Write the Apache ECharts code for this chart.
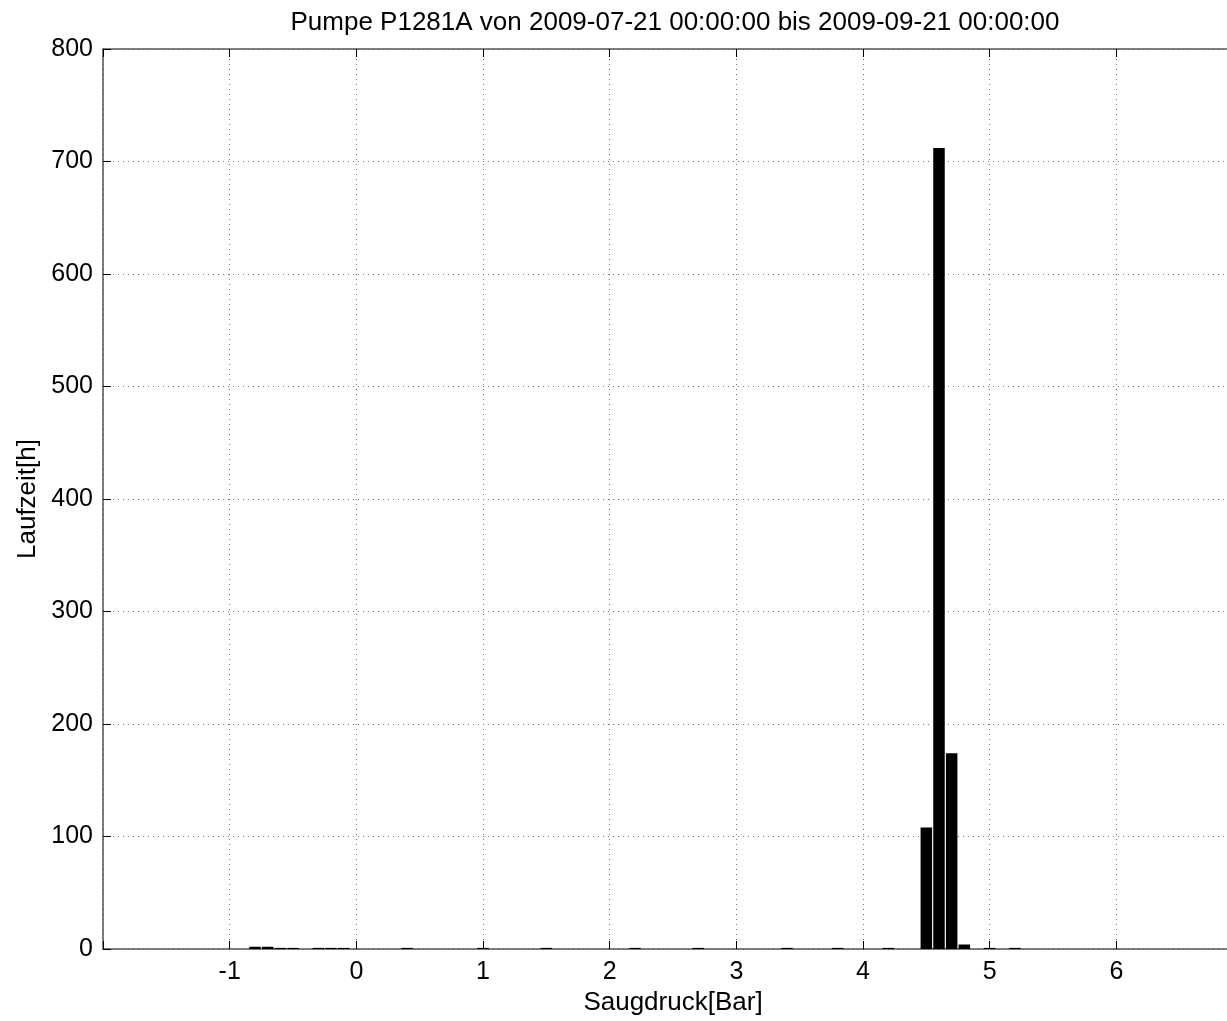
<!DOCTYPE html>
<html>
<head>
<meta charset="utf-8">
<script src="https://cdn.jsdelivr.net/npm/echarts@6/dist/echarts.min.js"></script>
<style>
html,body{margin:0;padding:0;background:#fff;}
#chart{width:1227px;height:1021px;}
</style>
</head>
<body>
<div id="chart"></div>
<script>
// Bin centres of Saugdruck [Bar] and running time [h]
var binCenters = [-0.8, -0.7, -0.6, -0.5, -0.3, -0.2, -0.1, 0.4, 1.0, 1.5, 2.2, 2.7, 3.4, 3.8, 4.2, 4.5, 4.6, 4.7, 4.8, 5.0, 5.2];
var hours      = [2, 2, 1, 1, 1, 1, 1, 1, 1, 1, 1, 1, 1, 1, 1, 108, 712, 174, 4, 1, 1];
var xTicks = [-1, 0, 1, 2, 3, 4, 5, 6];
var yTicks = [0, 100, 200, 300, 400, 500, 600, 700, 800];
var titleText = 'Pumpe P1281A von 2009-07-21 00:00:00 bis 2009-09-21 00:00:00';
var xName = 'Saugdruck[Bar]';
var yName = 'Laufzeit[h]';

var FONT = "'Liberation Sans', Arial, sans-serif";
var chart = echarts.init(document.getElementById('chart'), null, {renderer: 'canvas'});
var data = binCenters.map(function (x, i) { return [x, hours[i]]; });
var axisCol = '#555';
var gridLine = {show: true, lineStyle: {color: '#777', type: [1, 4], width: 1}};

chart.setOption({
  animation: false,
  backgroundColor: '#fff',
  graphic: [{
    type: 'text', x: 675, y: 10,
    style: {text: titleText, font: '26px ' + FONT, fill: '#000', textAlign: 'center', textVerticalAlign: 'top'}
  }],
  grid: {left: 103, top: 49, width: 1140, height: 900, show: false, outerBoundsMode: 'none', containLabel: false},
  xAxis: [{
    type: 'value', min: -2, max: 7, interval: 1,
    name: xName, nameLocation: 'middle', nameGap: 40,
    nameTextStyle: {fontFamily: FONT, fontSize: 26, color: '#000'},
    axisLine: {show: true, onZero: false, lineStyle: {color: axisCol, width: 1.5}},
    axisTick: {show: true, inside: true, length: 8, lineStyle: {color: '#000'}},
    axisLabel: {fontFamily: FONT, fontSize: 25, color: '#000', margin: 11,
      formatter: function (v) { return xTicks.indexOf(v) >= 0 ? String(v) : ''; }},
    splitLine: gridLine
  }, {
    type: 'value', min: -2, max: 7, interval: 1, position: 'top',
    axisLine: {show: true, onZero: false, lineStyle: {color: axisCol, width: 1.5}},
    axisTick: {show: true, inside: true, length: 8, lineStyle: {color: '#000'}},
    axisLabel: {show: false}, splitLine: {show: false}
  }],
  yAxis: [{
    type: 'value', min: 0, max: 800, interval: 100,
    name: yName, nameLocation: 'middle', nameGap: 62, nameRotate: 90,
    nameTextStyle: {fontFamily: FONT, fontSize: 26, color: '#000'},
    axisLine: {show: true, onZero: false, lineStyle: {color: axisCol, width: 1.5}},
    axisTick: {show: true, inside: true, length: 8, lineStyle: {color: '#000'}},
    axisLabel: {fontFamily: FONT, fontSize: 25, color: '#000', margin: 10,
      formatter: function (v) { return yTicks.indexOf(v) >= 0 ? String(v) : ''; }},
    splitLine: gridLine
  }],
  series: [{
    type: 'bar', xAxisIndex: 0, yAxisIndex: 0,
    data: data, barWidth: 11.5,
    itemStyle: {color: '#000'}
  }]
});
</script>
</body>
</html>
